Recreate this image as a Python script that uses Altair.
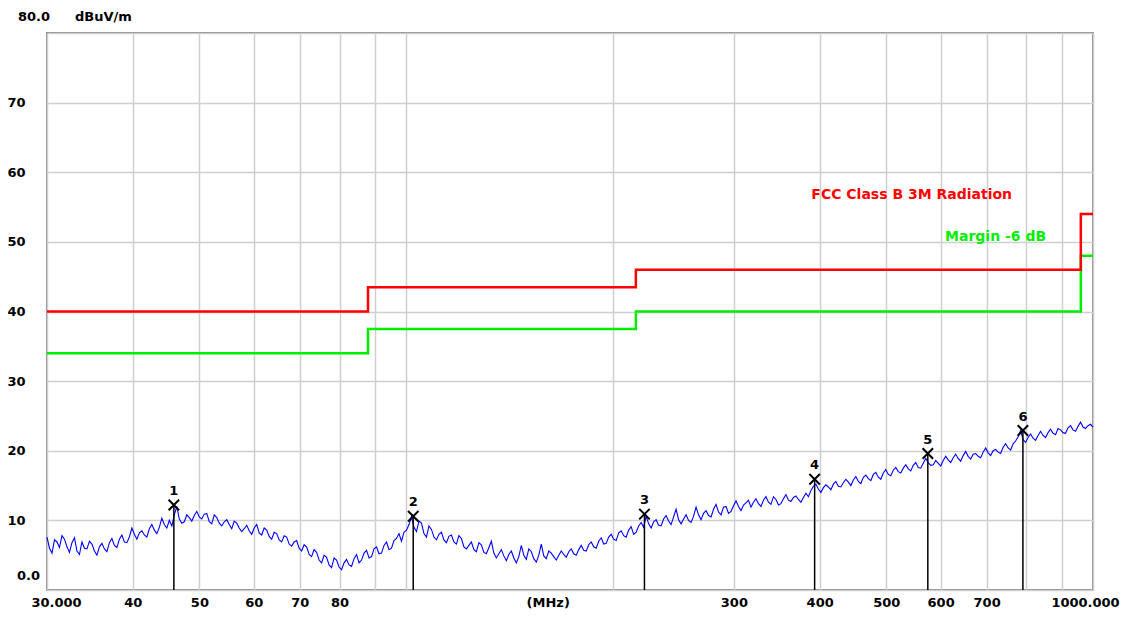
import altair as alt
import pandas as pd
import numpy as np

# Measured trace (dBuV/m), evenly spaced on the log-frequency axis from 30 to 1000 MHz
trace_db = [
    7.6, 6.0, 5.3, 7.2, 6.9, 6.1, 7.8, 7.3, 6.2, 5.4, 6.8, 7.5, 5.6, 5.1, 6.9, 6.0, 5.9, 7.0, 6.6, 5.6,
    5.0, 6.2, 6.7, 5.9, 5.5, 6.8, 7.4, 6.4, 6.1, 7.3, 7.9, 6.9, 6.8, 7.6, 8.9, 8.0, 7.3, 8.2, 8.5, 7.9,
    7.6, 8.8, 9.4, 8.6, 8.1, 9.0, 10.3, 9.4, 8.9, 10.0, 9.2, 10.8, 12.0, 10.2, 9.6, 9.8, 10.8, 10.4, 9.9, 10.7,
    11.3, 10.5, 10.2, 10.9, 11.0, 9.8, 9.5, 10.8, 10.4, 9.6, 9.2, 9.8, 10.1, 9.4, 8.8, 9.9, 9.6, 8.9, 8.4, 8.8,
    9.3, 8.5, 8.0, 8.9, 9.4, 8.2, 7.9, 8.9, 8.6, 7.7, 7.3, 8.3, 8.1, 7.2, 6.9, 7.8, 7.6, 6.6, 6.3, 6.9,
    7.1, 6.0, 5.6, 6.5, 6.2, 5.1, 4.8, 5.8, 5.4, 4.3, 3.9, 5.0, 4.7, 3.6, 3.2, 4.6, 4.3, 3.3, 2.9, 3.9,
    4.4, 3.6, 3.4, 4.5, 5.1, 3.9, 4.3, 5.3, 5.7, 4.6, 4.8, 5.9, 6.2, 5.2, 5.3, 6.4, 6.9, 5.8, 6.0, 7.1,
    7.4, 8.1, 7.0, 8.3, 8.6, 9.4, 10.5, 9.0, 8.4, 9.9, 9.6, 8.1, 7.6, 9.2, 8.7, 7.6, 7.2, 8.0, 8.3, 7.2,
    6.8, 7.7, 7.9, 6.9, 6.6, 7.8, 7.4, 6.2, 5.9, 6.4, 6.9, 5.8, 5.5, 6.8, 6.5, 5.4, 5.2, 6.1, 7.0, 5.3,
    4.6, 5.2, 5.8, 4.9, 4.2, 5.1, 5.6, 4.6, 3.9, 4.8, 6.4, 5.0, 4.4, 5.9, 5.5, 4.5, 4.0, 5.0, 6.6, 4.9,
    4.5, 5.6, 5.3, 4.8, 4.3, 5.0, 5.6, 5.1, 4.7, 5.5, 5.9, 5.2, 5.0, 5.8, 6.4, 5.7, 5.6, 6.5, 6.9, 6.2,
    6.0, 7.0, 7.5, 6.6, 6.7, 7.6, 8.0, 7.3, 7.1, 8.2, 8.5, 7.8, 7.6, 8.6, 9.1, 8.0, 8.3, 9.2, 9.7, 9.0,
    10.6, 9.5, 8.9, 9.8, 10.1, 9.3, 9.2, 10.2, 10.7, 9.9, 9.4, 10.5, 11.6, 10.1, 9.5, 10.2, 10.8, 10.0, 9.7, 10.6,
    11.9, 10.8, 10.1, 11.0, 11.4, 10.7, 10.5, 11.6, 12.3, 11.2, 10.8, 11.9, 12.0, 11.0, 11.3, 12.1, 12.8, 12.0, 11.4, 12.2,
    12.5, 12.9, 11.9, 12.6, 13.1, 12.4, 12.0, 12.9, 13.4, 12.6, 12.3, 13.4, 13.0, 12.2, 12.4, 13.1, 13.7, 12.9, 12.7, 13.3,
    13.5, 13.0, 12.6, 13.3, 13.9, 13.4, 14.3, 14.9, 15.2, 14.5, 14.0, 14.7, 15.1, 14.8, 14.4, 15.2, 15.6, 14.9, 14.8, 15.4,
    15.9, 15.5, 15.0, 15.8, 16.3, 15.6, 15.3, 16.2, 16.5, 16.0, 15.7, 16.6, 16.9, 16.2, 15.9, 16.8, 17.3, 16.6, 16.4, 17.2,
    17.6, 17.0, 16.8, 17.5, 18.0, 17.4, 17.1, 17.9, 18.3, 17.6, 17.5, 18.2, 18.9, 18.3, 17.9, 18.0, 18.6, 18.2, 17.8, 18.6,
    19.2, 18.7, 18.3, 19.0, 19.5, 18.9, 18.5, 19.3, 19.9, 19.2, 18.8, 19.5, 19.6, 19.2, 19.0, 19.8, 20.4, 19.7, 19.3, 20.0,
    20.2, 19.8, 19.6, 20.5, 21.0, 20.4, 20.1, 21.0, 21.4, 22.0, 22.9, 21.6, 21.2, 21.9, 22.4, 21.8, 21.5, 22.2, 22.8, 22.2,
    21.9, 22.6, 23.1, 22.5, 22.3, 23.2, 23.0, 22.6, 22.5, 23.3, 23.6, 23.0, 22.8, 23.5, 24.1, 23.4, 23.2, 23.6, 23.8, 23.4,
]
trace_freq = np.geomspace(30, 1000, len(trace_db))

limit_freq = [30, 88, 216, 960, 1000]
fcc_limit = [40, 43.5, 46, 54, 54]
margin_limit = [34, 37.5, 40, 48, 48]

marker_freq = [45.9, 102.4, 222.3, 393.3, 574.8, 790.6]
marker_db = [12.2, 10.6, 10.9, 15.9, 19.6, 22.9]
marker_label = ["1", "2", "3", "4", "5", "6"]

x_ticks = [30, 40, 50, 60, 70, 80, 90, 100, 200, 300, 400, 500, 600, 700, 800, 900, 1000]
y_ticks = [0, 10, 20, 30, 40, 50, 60, 70, 80]

FONT = "DejaVu Sans"

trace_df = pd.DataFrame({"f": trace_freq, "v": trace_db})
lim_df = pd.DataFrame({"f": limit_freq, "fcc": fcc_limit, "margin": margin_limit})
mk_df = pd.DataFrame({"f": marker_freq, "v": marker_db, "lbl": marker_label, "zero": [0] * len(marker_db)})

xscale = alt.Scale(type="log", domain=[30, 1000], nice=False)
yscale = alt.Scale(domain=[0, 80], nice=False, zero=False)

x_enc = alt.X(
    "f:Q", scale=xscale, title=None,
    axis=alt.Axis(
        values=x_ticks, grid=True, ticks=False, domain=False,
        gridColor="#cfcfcf", gridWidth=1.5,
        labelFont=FONT, labelFontSize=13, labelFontWeight="bold", labelColor="#000",
        labelPadding=6, labelFlush=False, labelOverlap=False,
        labelOffset={"condition": [{"test": "datum.value == 1000", "value": -8},
                                   {"test": "datum.value == 30", "value": 9}],
                     "value": 0},
        labelExpr="datum.value == 30 ? '30.000' : datum.value == 1000 ? '1000.000' : "
                  "indexof([40,50,60,70,80,300,400,500,600,700], datum.value) >= 0 ? format(datum.value, 'd') : ''",
    ),
)
y_axis = alt.Axis(
    values=y_ticks, grid=True, ticks=False, domain=False,
    gridColor="#cfcfcf", gridWidth=1.5,
    labelFont=FONT, labelFontSize=13, labelFontWeight="bold", labelColor="#000",
    labelPadding=22, labelAlign="right",
    labelExpr="datum.value == 0 || datum.value == 80 ? '' : format(datum.value, 'd')",
)

trace = alt.Chart(trace_df).mark_line(color="#0000ff", strokeWidth=1.1).encode(
    x=x_enc, y=alt.Y("v:Q", scale=yscale, title=None, axis=y_axis)
)

fcc = alt.Chart(lim_df).mark_line(color="#ff0000", strokeWidth=2.5, interpolate="step-after").encode(
    x=alt.X("f:Q", scale=xscale), y=alt.Y("fcc:Q", scale=yscale)
)
margin = alt.Chart(lim_df).mark_line(color="#00ee00", strokeWidth=2.5, interpolate="step-after").encode(
    x=alt.X("f:Q", scale=xscale), y=alt.Y("margin:Q", scale=yscale)
)

rules = alt.Chart(mk_df).mark_rule(color="#000", strokeWidth=1.5).encode(
    x=alt.X("f:Q", scale=xscale), y=alt.Y("v:Q", scale=yscale), y2="zero:Q"
)
crosses = alt.Chart(mk_df).mark_point(
    shape="M-1,-1L1,1M-1,1L1,-1", size=110, filled=False, color="#000", strokeWidth=2, opacity=1
).encode(x=alt.X("f:Q", scale=xscale), y=alt.Y("v:Q", scale=yscale))
nums = alt.Chart(mk_df).mark_text(
    font=FONT, fontSize=13, fontWeight="bold", color="#000", dy=-14, baseline="middle"
).encode(x=alt.X("f:Q", scale=xscale), y=alt.Y("v:Q", scale=yscale), text="lbl:N")

ann = pd.DataFrame({
    "f": [389.0, 609.0, 30.0, 30.0, 30.0, 161.0],
    "v": [56.7, 50.7, 80.0, 80.0, 0.0, 0.0],
    "t": ["FCC Class B 3M Radiation", "Margin -6 dB", "80.0", "dBuV/m", "0.0", "(MHz)"],
})

def note(i, color, align, dx=0, dy=0, size=14):
    return alt.Chart(ann.iloc[[i]]).mark_text(
        font=FONT, fontSize=size, fontWeight="bold", color=color, align=align,
        baseline="middle", dx=dx, dy=dy,
    ).encode(x=alt.X("f:Q", scale=xscale), y=alt.Y("v:Q", scale=yscale), text="t:N")

notes = [
    note(0, "#ff0000", "left"),
    note(1, "#00ee00", "left"),
    note(2, "#000", "right", dx=3, dy=-16, size=13),
    note(3, "#000", "left", dx=28, dy=-16, size=13),
    note(4, "#000", "right", dx=-7, dy=-14, size=13),
    note(5, "#000", "center", dy=13, size=13),
]

chart = alt.layer(trace, margin, fcc, rules, crosses, nums, *notes).properties(
    width=1046, height=557,
    autosize=alt.AutoSizeParams(type="none"),
    padding={"left": 39, "top": 25, "right": 30, "bottom": 21},
    background="#ffffff",
).configure_view(stroke="#8c8c8c", strokeWidth=2)

chart.save("out.html", embed_options={"renderer": "svg", "actions": False})
